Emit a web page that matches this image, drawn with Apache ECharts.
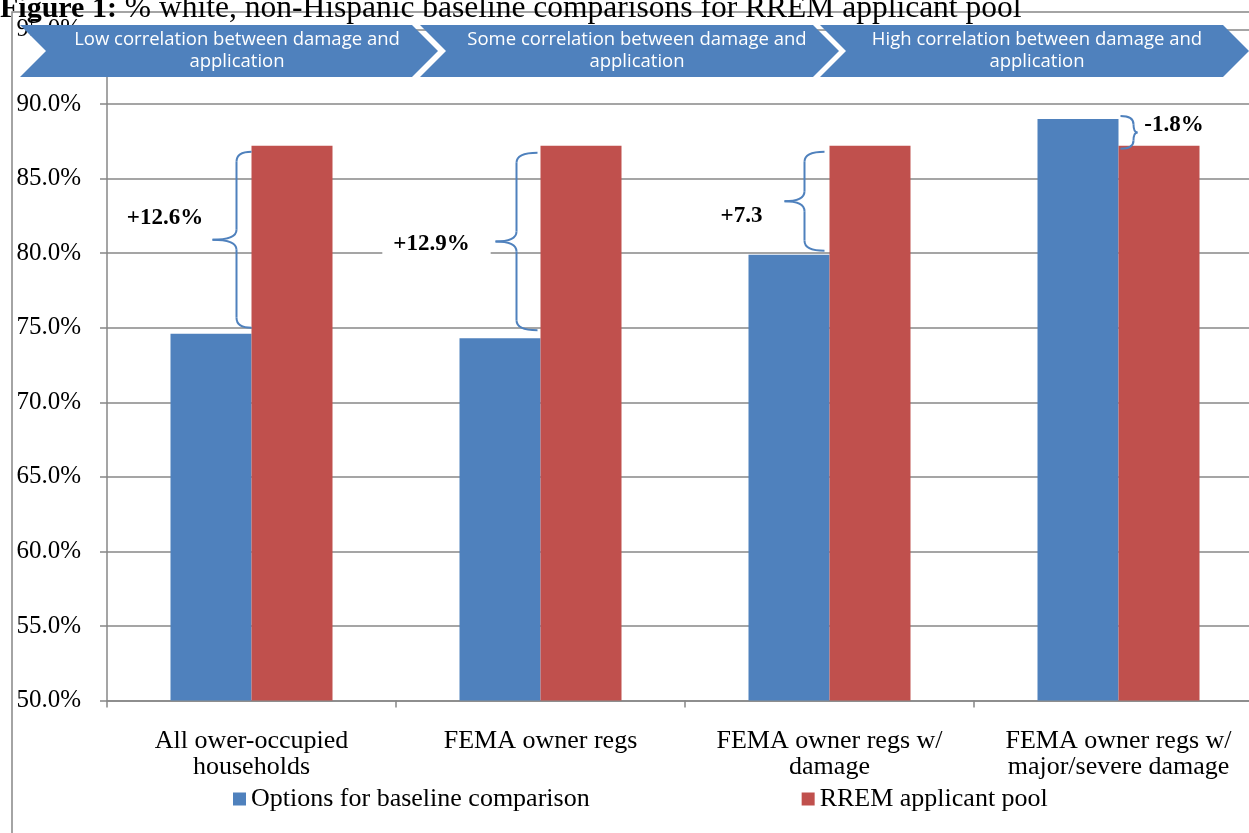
<!DOCTYPE html>
<html>
<head>
<meta charset="utf-8">
<script src="https://cdn.jsdelivr.net/npm/echarts@6/dist/echarts.min.js"></script>
<style>
  html, body { margin: 0; padding: 0; background: #fff; overflow: hidden; }
  /* the drawing surface is a little wider than the page so the plot runs off the right edge */
  #chart { width: 1263px; height: 833px; }
</style>
</head>
<body>
<div id="chart"></div>
<script>
// ---- data ----
const categories = [
  'All ower-occupied\nhouseholds',
  'FEMA owner regs',
  'FEMA owner regs w/\ndamage',
  'FEMA owner regs w/\nmajor/severe damage'
];
const seriesNames = ['Options for baseline comparison', 'RREM applicant pool'];
const baselineValues = [74.6, 74.3, 79.9, 89.0];
const applicantValues = [87.2, 87.2, 87.2, 87.2];
const differenceLabels = ['+12.6%', '+12.9%', '+7.3', '-1.8%'];
const stageLabels = [
  'Low correlation between damage and\napplication',
  'Some correlation between damage and\napplication',
  'High correlation between damage and\napplication'
];
const yTicks = { min: 50, max: 95, step: 5 };
const titleBold = 'Figure 1:';
const titleRest = ' % white, non-Hispanic baseline comparisons for RREM applicant pool';

// ---- styling ----
const SERIF = '"Liberation Serif", "Times New Roman", serif';
const SANS = '"Open Sans", "Noto Sans", sans-serif';
const BLUE = '#4f81bd';
const RED = '#c0504d';
const GREY = '#878787';
const PAGE_W = 1249;

const chart = echarts.init(document.getElementById('chart'), null, { renderer: 'canvas' });

chart.setOption({
  animation: false,
  backgroundColor: '#fff',
  grid: { left: 107, top: 29.5, right: 0, bottom: 132.5, containLabel: false },
  legend: {
    data: seriesNames,
    left: 228,
    top: 781,
    icon: 'rect',
    itemWidth: 13,
    itemHeight: 13,
    itemGap: 212,
    textStyle: { fontFamily: SERIF, fontSize: 26, color: '#000' }
  },
  xAxis: {
    type: 'category',
    data: categories,
    axisLine: { lineStyle: { color: GREY, width: 1.5 } },
    axisTick: { show: true, length: 7, lineStyle: { color: GREY, width: 1.5 } },
    axisLabel: {
      interval: 0, margin: 28, color: '#000',
      fontFamily: SERIF, fontSize: 26, lineHeight: 26
    },
    splitLine: { show: false }
  },
  yAxis: {
    type: 'value',
    min: yTicks.min, max: yTicks.max, interval: yTicks.step,
    axisLine: { show: true, lineStyle: { color: GREY, width: 1.5 } },
    axisTick: { show: true, length: 7, lineStyle: { color: GREY, width: 1.5 } },
    axisLabel: {
      margin: 26, color: '#000', fontFamily: SERIF, fontSize: 25,
      formatter: v => v.toFixed(1) + '%'
    },
    splitLine: { show: true, lineStyle: { color: GREY, width: 1.5 } }
  },
  series: [
    {
      name: seriesNames[0], type: 'bar', data: baselineValues,
      barWidth: 81, barGap: '0%',
      itemStyle: { color: BLUE }
    },
    {
      name: seriesNames[1], type: 'bar', data: applicantValues,
      barWidth: 81, barGap: '0%',
      itemStyle: { color: RED }
    }
  ]
});

// ---- annotations: frame, title, stage banner, braces with difference labels ----
const g = [];

// outer frame
g.push({
  type: 'polyline', z: 1, silent: true,
  shape: { points: [[12, 833], [12, 12], [PAGE_W, 12]] },
  style: { stroke: GREY, lineWidth: 1.5, fill: null }
});

// figure title (runs off the top edge)
g.push({
  type: 'text', z: 120, x: 0, y: 9,
  style: {
    text: '{b|' + titleBold + '}{r|' + titleRest + '}',
    verticalAlign: 'middle', align: 'left',
    rich: {
      b: { fontFamily: SERIF, fontSize: 30, fontWeight: 'bold', fill: '#000' },
      r: { fontFamily: SERIF, fontSize: 31.5, fill: '#000' }
    }
  }
});

// chevron banner
const chevTop = 25, chevBot = 77, chevDepth = 26;
const chevLefts = [20, 420, 820];
const chevRights = [412, 813, 1223];
stageLabels.forEach((txt, i) => {
  const L = chevLefts[i], R = chevRights[i], M = (chevTop + chevBot) / 2;
  g.push({
    type: 'polygon', z: 100, silent: true,
    shape: { points: [[L, chevTop], [R, chevTop], [R + chevDepth, M], [R, chevBot], [L, chevBot], [L + chevDepth, M]] },
    style: { fill: BLUE, stroke: null }
  });
  g.push({
    type: 'text', z: 101, x: L + 217, y: M,
    style: {
      text: txt, fill: '#fff', fontFamily: SANS, fontSize: 18.5, lineHeight: 22,
      align: 'center', verticalAlign: 'middle'
    }
  });
});

// brace geometry per category: [end offset, stem offset, cusp offset, top inset, bottom inset]
const braceLayout = [
  [0, -15, -39, 6, 6],
  [-3, -24, -45, 7, 8],
  [-5, -25, -45, 6, 4],
  [2, 15, 19, -3, -3]
];
// label placement per category: [dx from category centre, dy from brace middle, padding]
const labelLayout = [
  [-90, -22, [17, 10, 8, 17]],
  [-104, 3, [8, 21, 8, 11]],
  [-88, 15, [2, 2, 2, 2]],
  [56, -7, [10, 10, 4, 9]]
];
const labelFill = ['#fff', '#fff', null, '#fff'];

function addBrace(xe, xv, xc, yT, yB) {
  const yM = (yT + yB) / 2;
  const r = Math.min(10, (yB - yT) / 4);
  const st = { stroke: BLUE, lineWidth: 2, fill: null };
  const z = 60;
  g.push({ type: 'bezierCurve', z, silent: true, shape: { x1: xe, y1: yT, cpx1: xv, cpy1: yT, x2: xv, y2: yT + r }, style: st });
  g.push({ type: 'line', z, silent: true, shape: { x1: xv, y1: yT + r, x2: xv, y2: yM - r }, style: st });
  g.push({ type: 'bezierCurve', z, silent: true, shape: { x1: xv, y1: yM - r, cpx1: xv, cpy1: yM, x2: xc, y2: yM }, style: st });
  g.push({ type: 'bezierCurve', z, silent: true, shape: { x1: xc, y1: yM, cpx1: xv, cpy1: yM, x2: xv, y2: yM + r }, style: st });
  g.push({ type: 'line', z, silent: true, shape: { x1: xv, y1: yM + r, x2: xv, y2: yB - r }, style: st });
  g.push({ type: 'bezierCurve', z, silent: true, shape: { x1: xv, y1: yB - r, cpx1: xv, cpy1: yB, x2: xe, y2: yB }, style: st });
  return yM;
}

categories.forEach((c, i) => {
  const pBase = chart.convertToPixel({ xAxisIndex: 0, yAxisIndex: 0 }, [i, baselineValues[i]]);
  const pApp = chart.convertToPixel({ xAxisIndex: 0, yAxisIndex: 0 }, [i, applicantValues[i]]);
  const cx = pBase[0];
  const [eo, so, co, ti, bi] = braceLayout[i];
  const yHi = Math.min(pBase[1], pApp[1]);
  const yLo = Math.max(pBase[1], pApp[1]);
  const yM = addBrace(cx + eo, cx + so, cx + co, yHi + ti, yLo - bi);
  const [dx, dy, pad] = labelLayout[i];
  g.push({
    type: 'text', z: 55, x: cx + dx, y: yM + dy,
    style: {
      text: differenceLabels[i], fill: '#000',
      fontFamily: SERIF, fontSize: 23, fontWeight: 'bold', lineHeight: 24,
      align: 'center', verticalAlign: 'middle',
      backgroundColor: labelFill[i] || 'transparent', padding: pad
    }
  });
});

chart.setOption({ graphic: { elements: g } });
</script>
</body>
</html>
